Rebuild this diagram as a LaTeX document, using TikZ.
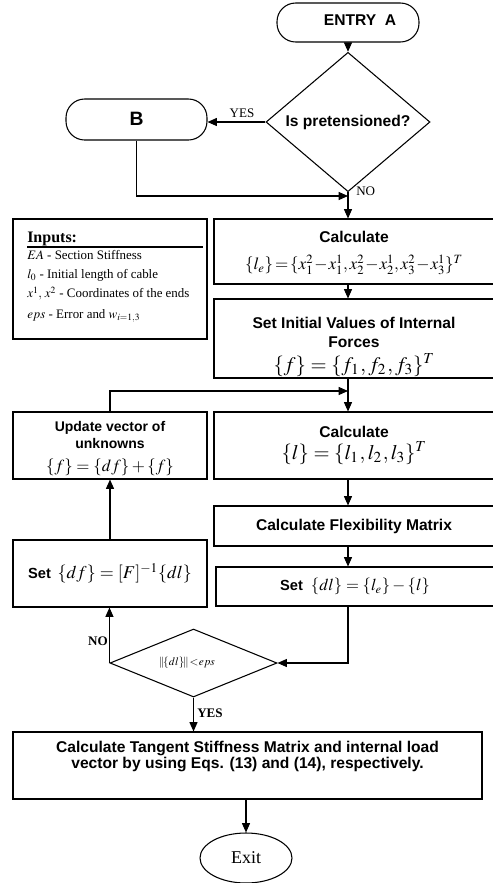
\documentclass[tikz,border=0pt]{standalone}
\usepackage{mathptmx}
\usepackage{fontspec}
\setmainfont{Liberation Serif}
\newfontfamily\arialf{Liberation Sans}
\usetikzlibrary{shapes.geometric,arrows.meta}
\newcommand{\mymath}[2]{{\fontsize{#1}{#1}\selectfont$#2$}}
\newcommand{\topstrut}[1]{\rule{0pt}{#1}}
\begin{document}
\begin{tikzpicture}[x=0.75pt,y=-0.75pt,
  every node/.style={inner sep=0pt},
  sz/.style 2 args={minimum width=#1*0.75pt,minimum height=#2*0.75pt},
  ln/.style={line width=0.8pt},
  arr/.style={line width=0.8pt,-{Triangle[length=7pt,width=6pt]}},
  box/.style={draw,line width=0.8pt,rectangle,align=center},
  term/.style={draw,line width=0.8pt,rectangle,rounded corners=14pt,align=center},
  dec/.style={draw,line width=0.8pt,diamond,align=center},
  sfb/.style={font=\arialf\bfseries\fontsize{11.7}{14}\selectfont},
  sfs/.style={font=\arialf\bfseries\fontsize{10.5}{12.75}\selectfont},
  sfset/.style={font=\arialf\bfseries\fontsize{11}{13}\selectfont},
  lab/.style={font=\fontsize{9.8}{12}\selectfont},
  labb/.style={font=\bfseries\fontsize{9.8}{12}\selectfont},
]
\useasboundingbox (0,0) rectangle (493,883);

% nodes
\node[term,sz={142}{39},sfb] (entry) at (348,22.5) {\raisebox{3pt}{\hspace*{18pt}ENTRY\ \ A}};
\node[dec,sz={164}{114},sfb] (d1) at (348,122) {Is pretensioned?};
\node[term,sz={141}{41},font=\arialf\bfseries\fontsize{14.5}{16}\selectfont] (B) at (136.5,119.5) {\raisebox{1.5pt}{B}};
\coordinate (j1) at (348,196);

\node[box,sz={194}{120}] (inputs) at (110,279) {};
\node[anchor=west,font=\bfseries\fontsize{12}{14}\selectfont] (inhead) at (27,239) {Inputs:};
\draw[ln] (27,247) -- (203,247);
\node[anchor=north west,align=left,font=\fontsize{9.7}{14.25}\selectfont] (inlist) at (27,250.5)
  {$EA$ - Section Stiffness\\ $l_0$ - Initial length of cable\\ $x^1,\,x^2$ - Coordinates of the ends\\[1.5pt] $eps$ - Error and $w_{i=1,3}$};

\node[box,sz={280}{65},sfb] (box1) at (354,251.5)
  {\topstrut{11pt}Calculate\\[6pt] {\medmuskip=1mu\thickmuskip=2mu\mymath{12.8}{\{l_e\}=\{x_1^2-x_1^1,x_2^2-x_2^1,x_3^2-x_3^1\}^T}}};
\node[box,sz={280}{79},sfb] (box2) at (354,338.5)
  {\topstrut{21pt}Set Initial Values of Internal\\Forces\\[4pt] \mymath{15.5}{\{f\}=\{f_1\mskip1mu,f_2\mskip1mu,f_3\}^T}};
\coordinate (j2) at (348,391);
\node[box,sz={280}{67},sfb] (box3) at (354,445.5)
  {Calculate\\[2pt] \mymath{15.5}{\{l\}=\{l_1\mskip1mu,l_2\mskip1mu,l_3\}^T}};
\node[box,sz={194}{67},sfs] (update) at (110,445.5)
  {\topstrut{12pt}Update vector of\\unknowns\\[4pt] \mymath{12.7}{\{f\}=\{df\}+\{f\}}};
\node[box,sz={280}{40},sfb] (box4) at (354,526) {Calculate Flexibility Matrix};
\node[box,sz={278}{39},sfset] (box5) at (355,586.5) {Set\hspace{6pt}\mymath{12.5}{\{dl\}=\{l_e\}-\{l\}}};
\node[box,sz={194}{67},sfset] (setdf) at (110,573.5) {Set\hspace{5pt}\mymath{13.5}{\{df\}=[F]^{-1}\{dl\}}};
\node[dec,sz={167}{68},font=\fontsize{8.5}{10}\selectfont] (d2) at (193.5,663) {\hspace*{-10pt}$\|\!\{dl\}\!\|\mskip1mu{<}\mskip1mu eps$};
\node[box,sz={469}{67},font=\arialf\bfseries\fontsize{11.7}{12}\selectfont] (final) at (247.5,765.5)
  {Calculate Tangent Stiffness Matrix and internal load\\vector by using Eqs. (13) and (14), respectively.\\\strut};
\node[draw,ln,ellipse,sz={92}{50},font=\fontsize{13.5}{15}\selectfont] (exit) at (246,858) {Exit};

% connectors
\draw[arr] (entry.south -| d1.north) -- (d1.north);
\draw[arr] (d1.west) -- (d1.west -| B.east);
\node[lab] (yes1) at (242,113) {YES};
\draw[arr] (B.south) |- (j1);
\node[lab,anchor=west] (no1) at (356,191) {NO};
\draw[arr] (d1.south) -- (d1.south |- box1.north);
\draw[arr] (box1.south -| d1.south) -- (box2.north -| d1.south);
\draw[arr] (box2.south -| d1.south) -- (box3.north -| d1.south);
\draw[arr] (update.north) |- (j2);
\draw[arr] (box3.south -| d1.south) -- (box4.north -| d1.south);
\draw[arr] (box4.south -| d1.south) -- (box5.north -| d1.south);
\draw[arr] (box5.south -| d1.south) |- (d2.east);
\draw[arr] (d2.west) -- (d2.west |- setdf.south);
\node[labb,anchor=east] (no2) at (108,641) {NO};
\draw[arr] (setdf.north) -- (update.south);
\draw[arr] (d2.south) -- (d2.south |- final.north);
\node[labb,anchor=west] (yes2) at (197,713) {YES};
\draw[arr] (final.south -| exit.north) -- (exit.north);
\end{tikzpicture}
\end{document}
